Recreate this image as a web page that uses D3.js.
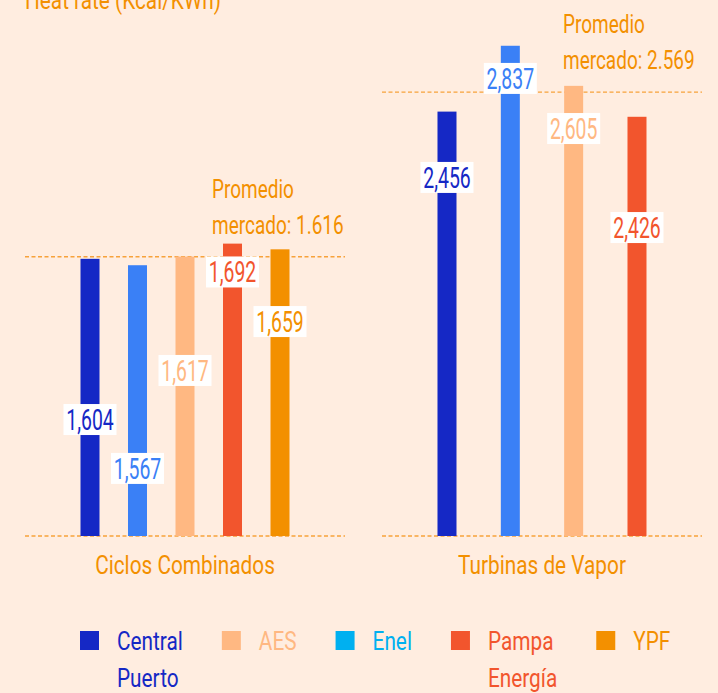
<!DOCTYPE html>
<html>
<head>
<meta charset="utf-8">
<script src="https://cdn.jsdelivr.net/npm/d3@7"></script>
<style>
  html, body { margin: 0; padding: 0; background: #FFEDE0; }
  svg { display: block; }
  text { font-family: Roboto, "Noto Sans", sans-serif; }
</style>
</head>
<body>
<script>
// ---------- DATA ----------
const title = "Heat rate (Kcal/KWh)";
const groups = ["Ciclos Combinados", "Turbinas de Vapor"];
const ciclosCompanies = ["Central Puerto", "Enel", "AES", "Pampa Energía", "YPF"];
const ciclosValues = [1604, 1567, 1617, 1692, 1659];
const turbinasCompanies = ["Central Puerto", "Enel", "AES", "Pampa Energía"];
const turbinasValues = [2456, 2837, 2605, 2426];
const marketAverages = [1616, 2569];
const averageLabels = [["Promedio", "mercado: 1.616"], ["Promedio", "mercado: 2.569"]];
const legendNames = ["Central Puerto", "AES", "Enel", "Pampa Energía", "YPF"];

// ---------- LAYOUT / STYLE ----------
const W = 718, H = 693;
const barColors = {"Central Puerto": "#1528C5", "Enel": "#3A80F6", "AES": "#FFB882", "Pampa Energía": "#F2552D", "YPF": "#F39000"};
const legendColors = {"Central Puerto": "#1528C5", "AES": "#FFB882", "Enel": "#00B0F0", "Pampa Energía": "#F2552D", "YPF": "#F39000"};
const orange = "#F39000";
const dashColor = "#F7A23A";
// where each value label box sits (in data units along the y axis)
const ciclosLabelAt = [674, 391, 958, 1528, 1241];
const turbinasLabelAt = [2075, 2648, 2358, 1785];
const avgLabelDx = [187, 181];

const svg = d3.select("body").append("svg").attr("width", W).attr("height", H);
svg.append("rect").attr("width", W).attr("height", H).attr("fill", "#FFEDE0");

const y = d3.scaleLinear().domain([0, 3000]).range([536, 17.6]);
const gx = d3.scaleBand().domain(groups).range([25, 702]).paddingInner(0.1036).paddingOuter(0);
const barW = 19;

function ctext(sel, x, yy, sx) {
  return sel.attr("transform", `translate(${x},${yy}) scale(${sx},1)`);
}

// title (partly cut off at the top)
ctext(svg.append("text"), 25, 9, 0.8)
  .attr("font-size", 26).attr("fill", orange).text(title);

const groupData = [
  {name: groups[0], companies: ciclosCompanies, values: ciclosValues, labelAt: ciclosLabelAt, avg: marketAverages[0], avgLabel: averageLabels[0], dx: avgLabelDx[0]},
  {name: groups[1], companies: turbinasCompanies, values: turbinasValues, labelAt: turbinasLabelAt, avg: marketAverages[1], avgLabel: averageLabels[1], dx: avgLabelDx[1]}
];

const labelLayer = [];
groupData.forEach(g => {
  const x0 = gx(g.name), bw = gx.bandwidth();
  const xp = d3.scalePoint().domain(g.companies).range([x0 + 65, x0 + 255]);
  const G = svg.append("g");
  // baseline
  G.append("line").attr("x1", x0).attr("x2", x0 + bw).attr("y1", y(0)).attr("y2", y(0))
    .attr("stroke", dashColor).attr("stroke-width", 1.4).attr("stroke-dasharray", "4,2.5");
  // average line
  G.append("line").attr("x1", x0).attr("x2", x0 + bw).attr("y1", y(g.avg)).attr("y2", y(g.avg))
    .attr("stroke", dashColor).attr("stroke-width", 1.4).attr("stroke-dasharray", "4,2.5");
  // average label
  g.avgLabel.forEach((line, i) => {
    ctext(G.append("text"), x0 + g.dx, y(g.avg) - 23 - (g.avgLabel.length - 1 - i) * 36, 0.73)
      .attr("font-size", 26).attr("fill", orange).text(line);
  });
  // bars
  const rows = g.companies.map((c, i) => ({c, v: g.values[i], la: g.labelAt[i]}));
  G.selectAll("rect.bar").data(rows).join("rect").attr("class", "bar")
    .attr("x", d => xp(d.c) - barW / 2).attr("width", barW)
    .attr("y", d => y(d.v)).attr("height", d => y(0) - y(d.v))
    .attr("fill", d => barColors[d.c]);
  rows.forEach(d => labelLayer.push({x: xp(d.c), y: y(d.la), v: d.v, c: d.c}));
  // category label
  ctext(G.append("text"), x0 + bw / 2, 574, 0.8)
    .attr("text-anchor", "middle").attr("font-size", 26).attr("fill", orange).text(g.name);
});

// value labels
const fmt = d3.format(",");
const LG = svg.append("g");
labelLayer.forEach(d => {
  LG.append("rect").attr("x", d.x - 26.5).attr("y", d.y - 15.5).attr("width", 53).attr("height", 31).attr("fill", "#fff");
  ctext(LG.append("text"), d.x, d.y + 10.5, 0.67)
    .attr("text-anchor", "middle").attr("font-size", 29).attr("fill", barColors[d.c]).text(fmt(d.v));
});

// legend
let lx = 80;
const legend = svg.append("g");
legendNames.forEach(name => {
  legend.append("rect").attr("x", lx).attr("y", 631).attr("width", 19).attr("height", 19).attr("fill", legendColors[name]);
  const words = name.split(" ");
  let maxW = 0;
  words.forEach((w, i) => {
    const t = ctext(legend.append("text"), lx + 37, 650 + i * 37, 0.8)
      .attr("font-size", 26).attr("fill", legendColors[name]).text(w);
    maxW = Math.max(maxW, t.node().getComputedTextLength() * 0.8);
  });
  lx = lx + 37 + maxW + 39;
});
</script>
</body>
</html>
